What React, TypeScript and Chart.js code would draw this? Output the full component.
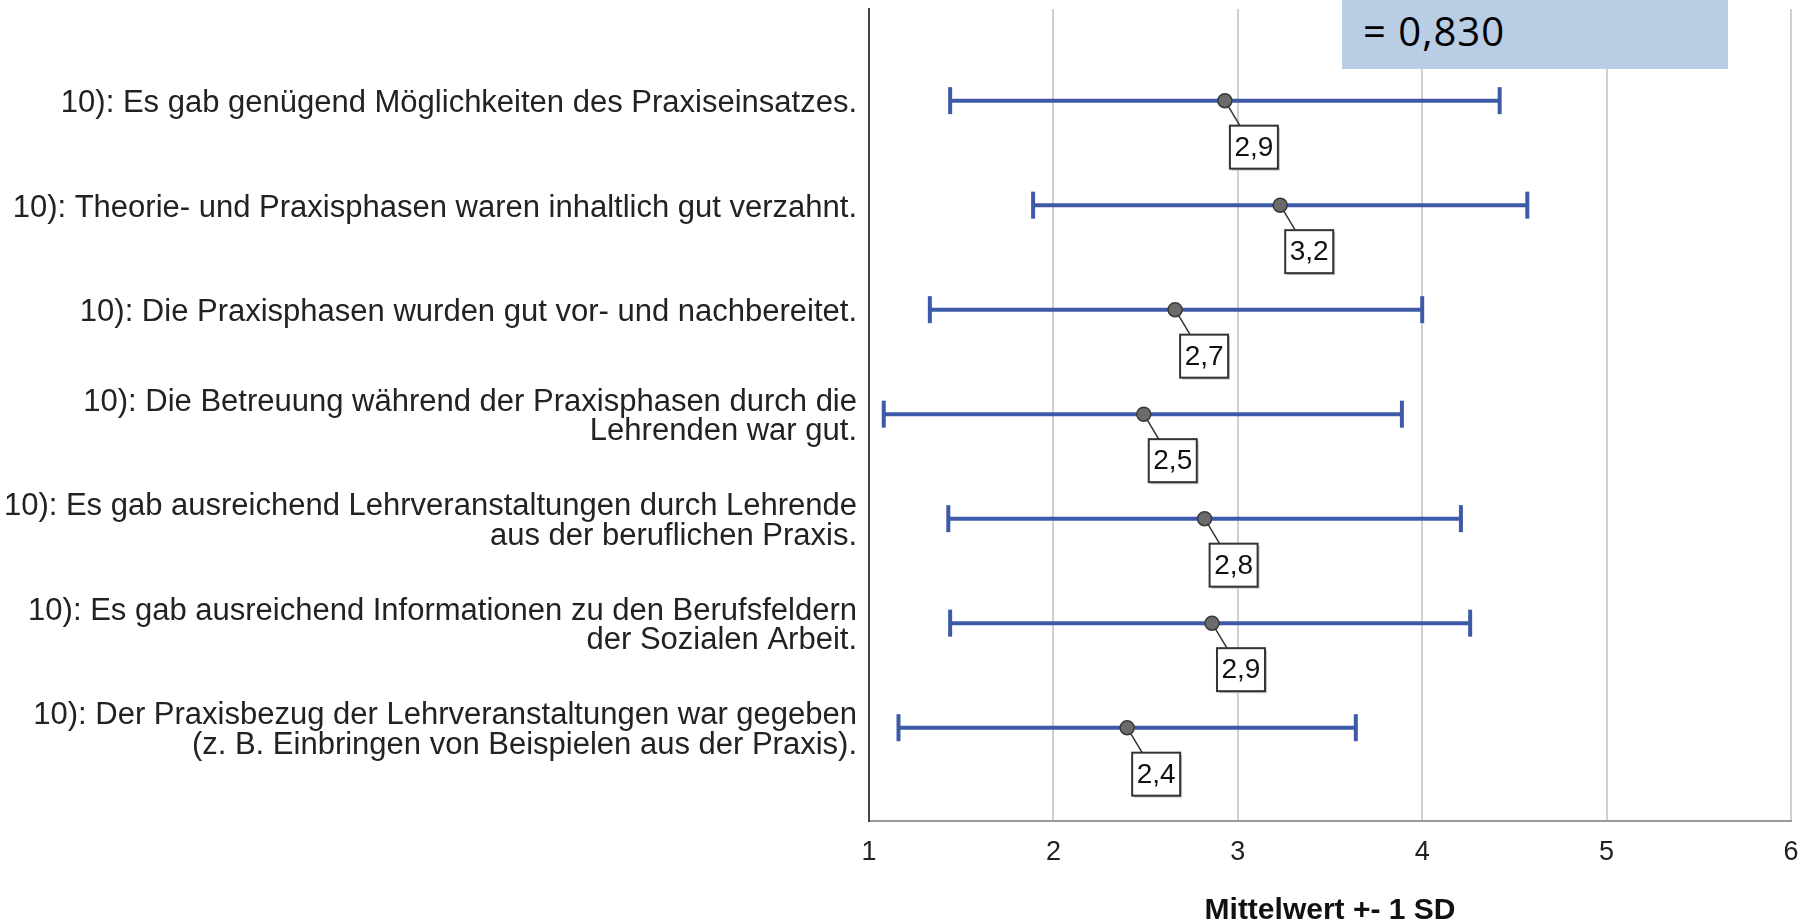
import React, { useEffect, useRef } from "react";
import { Chart, registerables } from "chart.js";

Chart.register(...registerables);

const categories: (string | string[])[] = [
  "10): Es gab genügend Möglichkeiten des Praxiseinsatzes.",
  "10): Theorie- und Praxisphasen waren inhaltlich gut verzahnt.",
  "10): Die Praxisphasen wurden gut vor- und nachbereitet.",
  ["10): Die Betreuung während der Praxisphasen durch die", "Lehrenden war gut."],
  ["10): Es gab ausreichend Lehrveranstaltungen durch Lehrende", "aus der beruflichen Praxis."],
  ["10): Es gab ausreichend Informationen zu den Berufsfeldern", "der Sozialen Arbeit."],
  ["10): Der Praxisbezug der Lehrveranstaltungen war gegeben", "(z. B. Einbringen von Beispielen aus der Praxis)."],
];

const means = [2.93, 3.23, 2.66, 2.49, 2.82, 2.86, 2.4];
const lowerSD = [1.44, 1.89, 1.33, 1.08, 1.43, 1.44, 1.16];
const upperSD = [4.42, 4.57, 4.0, 3.89, 4.21, 4.26, 3.64];

const xTicks = [1, 2, 3, 4, 5, 6];
const xTitle = "Mittelwert +- 1 SD";
const overlayText = "= 0,830";

const BAR_COLOR = "#3d5aa8";

const labelPlugin = {
  id: "meanLabels",
  beforeDatasetsDraw(chart: any) {
    const { ctx, scales } = chart;
    const xs = scales.x;
    const ys = scales.y;
    ctx.save();
    means.forEach((m, i) => {
      const px = xs.getPixelForValue(m);
      const py = ys.getPixelForValue(i);
      const bx = px + 5;
      const by = py + 25;
      const bw = 48;
      const bh = 43;
      ctx.strokeStyle = "#333";
      ctx.lineWidth = 1.5;
      ctx.beginPath();
      ctx.moveTo(px, py);
      ctx.lineTo(px + 15, by);
      ctx.stroke();
      ctx.fillStyle = "#c4c4c4";
      ctx.fillRect(bx + 2, by + 2, bw, bh);
      ctx.fillStyle = "#fff";
      ctx.fillRect(bx, by, bw, bh);
      ctx.strokeStyle = "#333";
      ctx.lineWidth = 2;
      ctx.strokeRect(bx, by, bw, bh);
      ctx.fillStyle = "#111";
      ctx.font = '28px "Liberation Sans", Arial, sans-serif';
      ctx.textAlign = "center";
      ctx.textBaseline = "middle";
      ctx.fillText(m.toFixed(1).replace(".", ","), bx + bw / 2, by + bh / 2 + 1);
    });
    ctx.restore();
  },
};

export default function App() {
  const canvasRef = useRef<HTMLCanvasElement>(null);

  useEffect(() => {
    if (!canvasRef.current) return;
    const barDatasets = categories.map((_, i) => ({
      type: "scatter" as const,
      data: [
        { x: lowerSD[i], y: i },
        { x: upperSD[i], y: i },
      ],
      showLine: true,
      borderColor: BAR_COLOR,
      borderWidth: 4,
      pointStyle: "line" as const,
      rotation: 90,
      pointRadius: 13.5,
      pointBorderWidth: 4,
      pointBorderColor: BAR_COLOR,
      pointBackgroundColor: BAR_COLOR,
      order: 2,
    }));

    const chart = new Chart(canvasRef.current, {
      type: "scatter",
      data: {
        datasets: [
          {
            data: means.map((m, i) => ({ x: m, y: i })),
            pointRadius: 7,
            pointBackgroundColor: "#6b6b6b",
            pointBorderColor: "#3a3a3a",
            pointBorderWidth: 1.5,
            order: 0,
          } as any,
          ...barDatasets,
        ],
      },
      options: {
        animation: false,
        responsive: false,
        events: [],
        layout: { autoPadding: false, padding: { top: 9, right: 19, left: 0, bottom: 0 } },
        plugins: {
          legend: { display: false },
          tooltip: { enabled: false },
        },
        scales: {
          x: {
            type: "linear",
            position: "bottom",
            min: 1,
            max: 6,
            afterBuildTicks: (axis: any) => {
              axis.ticks = xTicks.map((v) => ({ value: v }));
            },
            afterFit: (axis: any) => {
              axis.height = 102;
              axis.paddingLeft = 0;
              axis.paddingRight = 0;
            },
            ticks: {
              color: "#222",
              padding: 15,
              font: { family: '"Liberation Sans", Arial, sans-serif', size: 27, lineHeight: 1.2 },
            },
            grid: { color: "#cfcfcf", lineWidth: 2, drawTicks: false },
            border: { color: "#9a9a9a", width: 2 },
            title: {
              display: true,
              text: xTitle,
              color: "#111",
              font: { family: '"Liberation Sans", Arial, sans-serif', size: 30, weight: "bold", lineHeight: 0.8 },
              padding: { top: 0, bottom: 0 },
            },
          },
          y: {
            type: "linear",
            reverse: true,
            min: -0.877,
            max: 6.893,
            afterBuildTicks: (axis: any) => {
              axis.ticks = categories.map((_, i) => ({ value: i }));
            },
            afterFit: (axis: any) => {
              axis.width = 869;
              axis.paddingTop = 0;
              axis.paddingBottom = 0;
            },
            ticks: {
              color: "#222",
              padding: 12,
              labelOffset: 3,
              autoSkip: false,
              font: { family: '"Liberation Sans", Arial, sans-serif', size: 31, lineHeight: 0.95 },
              callback: (v: any) => {
                const idx = Math.round(Number(v));
                return categories[idx] ?? "";
              },
            },
            grid: { display: false, drawTicks: false },
            border: { color: "#444", width: 2 },
          },
        },
      },
      plugins: [labelPlugin],
    } as any);
    return () => chart.destroy();
  }, []);

  return (
    <div style={{ position: "absolute", left: 0, top: 0, width: 1810, height: 923, background: "#fff" }}>
      <canvas ref={canvasRef} width={1810} height={923} style={{ width: 1810, height: 923, display: "block" }} />
      <div
        style={{
          position: "absolute",
          left: 1342,
          top: 0,
          width: 386,
          height: 69,
          background: "#b9cde5",
        }}
      >
        <span
          style={{
            position: "absolute",
            left: 21,
            top: 11,
            fontFamily: '"Open Sans", sans-serif',
            fontSize: 40,
            lineHeight: 1,
            letterSpacing: 1,
            color: "#000",
            whiteSpace: "nowrap",
          }}
        >
          {overlayText}
        </span>
      </div>
    </div>
  );
}
